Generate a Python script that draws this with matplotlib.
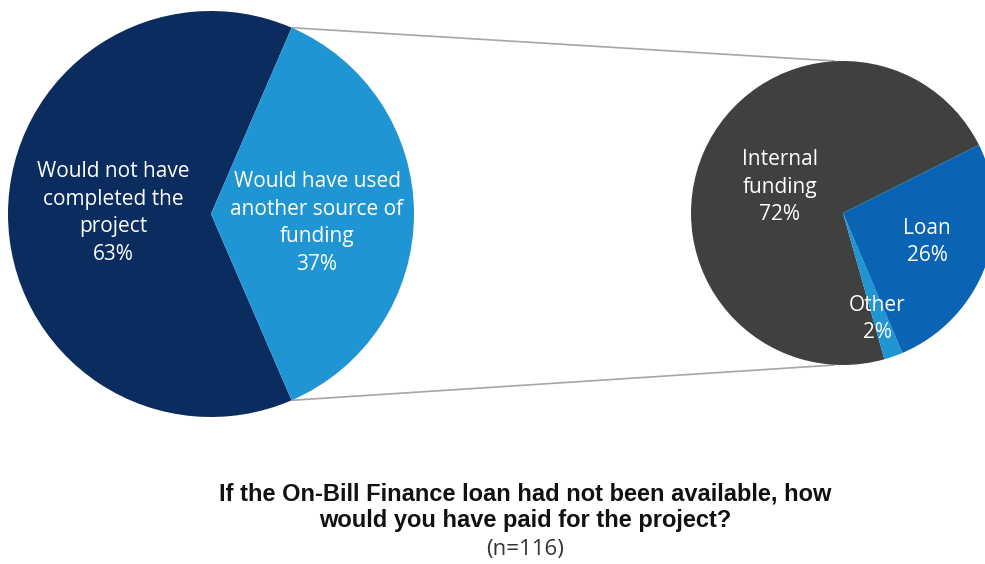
import matplotlib
matplotlib.use("Agg")
import matplotlib.pyplot as plt
import numpy as np

# Survey responses
main_labels = ["Would not have\ncompleted the\nproject", "Would have used\nanother source of\nfunding"]
main_values = [63, 37]
main_colors = ["#0b2c5f", "#1f95d3"]

source_labels = ["Internal\nfunding", "Other", "Loan"]
source_values = [72, 2, 26]
source_colors = ["#404040", "#1f95d3", "#0a63b3"]

title_lines = "If the On-Bill Finance loan had not been available, how\nwould you have paid for the project?"
sample_note = "(n=116)"

W, H = 985, 564
fig = plt.figure(figsize=(W / 100, H / 100), dpi=100)
ax = fig.add_axes([0, 0, 1, 1])

# Main pie (left)
c1, r1 = (211, H - 214), 203
w1, _ = ax.pie(main_values, colors=main_colors, startangle=66.6, counterclock=True,
               center=c1, radius=r1, frame=True, wedgeprops=dict(linewidth=0))

# Breakdown pie (right)
c2, r2 = (843, H - 213), 152
w2, _ = ax.pie(source_values, colors=source_colors, startangle=26.6, counterclock=True,
               center=c2, radius=r2, frame=True, wedgeprops=dict(linewidth=0))
ax.set_xlim(0, W)
ax.set_ylim(0, H)
ax.set_aspect("equal")
ax.axis("off")
for w in w1 + w2:
    w.set_clip_on(True)

# Connector lines from the "another source" slice to the breakdown pie
other_wedge = w1[1]
for ang, ty in [(other_wedge.theta2, c2[1] + r2), (other_wedge.theta1, c2[1] - r2)]:
    a = np.deg2rad(ang)
    x0 = c1[0] + r1 * np.cos(a)
    y0 = c1[1] + r1 * np.sin(a)
    ax.plot([x0, c2[0] - 8], [y0, ty], color="#a6a6a6", lw=1.2, zorder=0,
            solid_capstyle="butt")

lab_kw = dict(color="white", ha="center", va="center", fontsize=15,
              family=["Open Sans", "DejaVu Sans"], linespacing=1.4)
ax.text(113, H - 213, f"{main_labels[0]}\n{main_values[0]}%", **lab_kw)
ax.text(317, H - 223, f"{main_labels[1]}\n{main_values[1]}%", **lab_kw)
ax.text(780, H - 187, f"{source_labels[0]}\n{source_values[0]}%", **lab_kw)
ax.text(927, H - 242, f"{source_labels[2]}\n{source_values[2]}%", **lab_kw)
ax.text(877, H - 319, f"{source_labels[1]}\n{source_values[1]}%", **lab_kw)

ax.text(525, H - 507, title_lines, ha="center", va="center", fontsize=17,
        fontweight="bold", family=["Liberation Sans", "DejaVu Sans"],
        color="#111111", linespacing=1.2)
ax.text(525, H - 550, sample_note, ha="center", va="center", fontsize=16,
        family=["Open Sans", "DejaVu Sans"], color="#333333")

fig.savefig("out.png", dpi=100, facecolor="white")
